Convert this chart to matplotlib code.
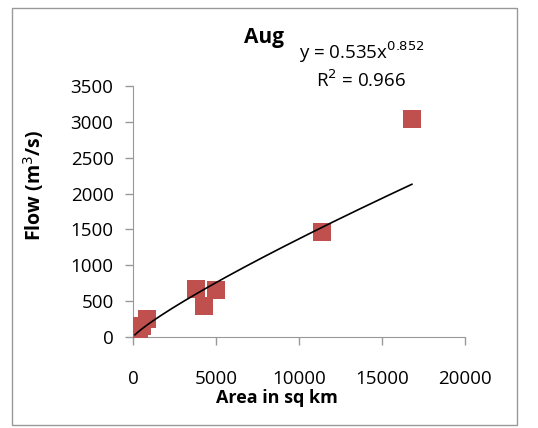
import numpy as np
import matplotlib
matplotlib.use("Agg")
import matplotlib.pyplot as plt
from matplotlib.patches import Rectangle

# Catchment area (sq km) and August flow (m3/s)
area = [120, 250, 380, 550, 850, 3800, 4300, 5000, 11400, 16800]
flow = [40, 90, 60, 150, 250, 670, 430, 650, 1460, 3040]

# Power-law fit coefficients
coef_a = 0.535
coef_b = 0.852
r_squared = 0.966

x_ticks = [0, 5000, 10000, 15000, 20000]
y_ticks = [0, 500, 1000, 1500, 2000, 2500, 3000, 3500]

plt.rcParams['font.family'] = ['Open Sans', 'DejaVu Sans']

fig = plt.figure(figsize=(5.38, 4.28), dpi=100)
ax = fig.add_axes([133 / 538, 1 - 337 / 428, (465 - 133) / 538, (337 - 86) / 428])

# outer chart border
fig.patches.append(Rectangle((12 / 538, 3 / 428), (517 - 12) / 538, (425 - 8) / 428,
                             transform=fig.transFigure, fill=False,
                             edgecolor='#999999', linewidth=1.0))

ax.scatter(area, flow, marker='s', s=150, color='#C0504D', zorder=3, linewidths=0)

xf = np.linspace(min(area), max(area), 200)
ax.plot(xf, coef_a * xf ** coef_b, color='black', linewidth=1.2, zorder=4)

ax.set_xlim(0, 20000)
ax.set_ylim(0, 3500)
ax.set_xticks(x_ticks)
ax.set_yticks(y_ticks)
ax.tick_params(labelsize=13.5, color='#999999', length=6, width=1)
ax.tick_params(axis='x', pad=18)
ax.tick_params(axis='y', pad=8)
for s in ['top', 'right']:
    ax.spines[s].set_visible(False)
for s in ['left', 'bottom']:
    ax.spines[s].set_color('#999999')

ax.set_xlabel('Area in sq km', fontsize=13, fontweight='bold')
ax.set_ylabel('Flow (m$^{3}$/s)', fontsize=14, fontweight='bold')
ax.xaxis.set_label_coords(0.434, -0.243)
ax.yaxis.set_label_coords(-0.30, 0.605)
ax.xaxis.label.set_va('center')
ax.yaxis.label.set_va('center')

fig.text(264 / 538, 1 - 37 / 428, 'Aug', fontsize=15, fontweight='bold',
         ha='center', va='center')
fig.text(362 / 538, 1 - 52 / 428, f'y = {coef_a}x$^{{{coef_b}}}$', fontsize=13.5,
         ha='center', va='center')
fig.text(361 / 538, 1 - 80 / 428, f'R$^{{2}}$ = {r_squared}', fontsize=13.5,
         ha='center', va='center')

fig.savefig('out.png', dpi=100, facecolor='white')
